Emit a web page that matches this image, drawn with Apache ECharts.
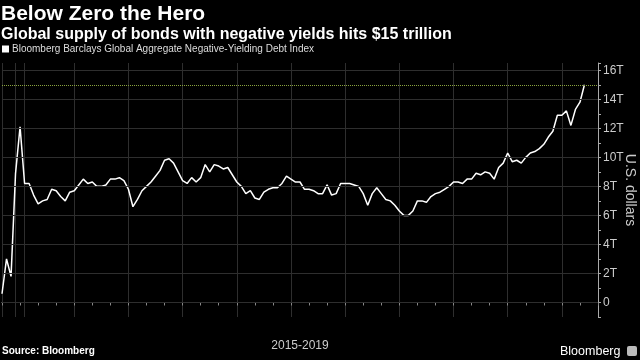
<!DOCTYPE html>
<html><head><meta charset="utf-8">
<script src="https://cdn.jsdelivr.net/npm/echarts@6/dist/echarts.min.js"></script>
<style>html,body{margin:0;padding:0;background:#000}#c{width:640px;height:360px}</style>
</head><body><div id="c"></div>
<script>
const chartTitle = 'Below Zero the Hero';
const chartSubtitle = 'Global supply of bonds with negative yields hits $15 trillion';
const seriesName = 'Bloomberg Barclays Global Aggregate Negative-Yielding Debt Index';
const periodLabel = '2015-2019';
const yUnit = 'U.S. dollars';
const sourceText = 'Source: Bloomberg';
const brandText = 'Bloomberg';
const yTicks = [0, 2, 4, 6, 8, 10, 12, 14, 16];
const targetLevel = 15;
// index level, trillions of USD, evenly spaced observations
const values = [
 0.6, 3.0, 1.8, 8.9, 12.1, 8.2, 8.2, 7.4, 6.8, 7.0,
 7.1, 7.8, 7.7, 7.3, 7.0, 7.6, 7.7, 8.1, 8.5, 8.2,
 8.3, 8.0, 8.0, 8.1, 8.5, 8.5, 8.6, 8.4, 7.8, 6.6,
 7.1, 7.7, 8.0, 8.3, 8.7, 9.1, 9.8, 9.9, 9.6, 9.0,
 8.4, 8.2, 8.6, 8.3, 8.6, 9.5, 9.0, 9.5, 9.4, 9.2,
 9.3, 8.8, 8.3, 8.0, 7.5, 7.7, 7.2, 7.1, 7.6, 7.8,
 7.9, 7.9, 8.2, 8.7, 8.5, 8.3, 8.3, 7.8, 7.8, 7.7,
 7.5, 7.5, 8.1, 7.4, 7.5, 8.2, 8.2, 8.2, 8.1, 8.0,
 7.5, 6.7, 7.5, 7.9, 7.5, 7.1, 7.0, 6.7, 6.3, 6.0,
 6.0, 6.3, 7.0, 7.0, 6.9, 7.3, 7.5, 7.6, 7.8, 8.0,
 8.3, 8.3, 8.2, 8.5, 8.5, 8.9, 8.8, 9.0, 8.9, 8.5,
 9.3, 9.6, 10.3, 9.7, 9.8, 9.6, 10.0, 10.3, 10.4, 10.6,
 10.9, 11.4, 11.8, 12.9, 12.9, 13.2, 12.2, 13.3, 13.8, 15.0
];
const padCount = 3;
const seriesData = values.concat(new Array(padCount).fill(null));
const categories = seriesData.map((_, i) => 'P' + i);
const gridlineIdx = [0, 3, 5, 16, 28, 40, 52, 64, 76, 88, 100, 112, 124];

const FONT = '"Liberation Sans", Arial, sans-serif';
const chart = echarts.init(document.getElementById('c'), null, {renderer: 'canvas'});
chart.setOption({
  backgroundColor: '#000',
  animation: false,
  textStyle: {fontFamily: FONT},
  title: [
    {text: chartTitle, left: 1, top: 4, padding: 0,
     textStyle: {color: '#fff', fontSize: 21, fontWeight: 'bold', fontFamily: FONT}},
    {text: chartSubtitle, left: 1, top: 27, padding: 0,
     textStyle: {color: '#fff', fontSize: 16, fontWeight: 'bold', fontFamily: FONT}}
  ],
  legend: {
    data: [seriesName], left: 2, top: 44, padding: 0, icon: 'rect',
    itemWidth: 7, itemHeight: 7, itemGap: 3,
    textStyle: {color: '#ddd', fontSize: 10, padding: [0, 0, 0, -2], fontFamily: FONT}
  },
  grid: {left: 2, right: 42, top: 63, bottom: 43, containLabel: false, outerBoundsMode: 'none'},
  xAxis: {
    type: 'category', data: categories, boundaryGap: false,
    axisLine: {lineStyle: {color: '#aaa', width: 1}},
    axisTick: {show: true, interval: 3, length: 3, lineStyle: {color: '#888'}},
    axisLabel: {show: false},
    splitLine: {show: true, interval: (i) => gridlineIdx.includes(i), lineStyle: {color: '#2e2e2e', width: 1}},
    name: periodLabel, nameLocation: 'middle', nameGap: 23, nameMoveOverlap: false,
    nameTextStyle: {color: '#ccc', fontSize: 12, fontFamily: FONT}
  },
  yAxis: {
    type: 'value', position: 'right', min: -1, max: 16.5, interval: 1,
    axisLine: {show: true, lineStyle: {color: '#aaa'}},
    axisTick: {show: true, length: 3, lineStyle: {color: '#aaa'}},
    axisLabel: {color: '#ccc', fontSize: 12, margin: 5, fontFamily: FONT,
      formatter: (v) => yTicks.includes(v) ? (v === 0 ? '0' : v + 'T') : ''},
    splitLine: {show: false},
    name: yUnit, nameLocation: 'middle', nameRotate: -90, nameGap: 25, nameMoveOverlap: false,
    nameTextStyle: {color: '#ccc', fontSize: 14, fontFamily: FONT}
  },
  series: [
    {
      name: 'grid', type: 'line', data: [], z: 1, silent: true,
      markLine: {
        silent: true, symbol: 'none', label: {show: false}, animation: false,
        data: yTicks.map(v => ({yAxis: v, lineStyle: {color: '#2e2e2e', type: 'solid', width: 1}}))
          .concat([{yAxis: targetLevel, lineStyle: {color: '#8aa33f', type: 'dotted', width: 1}}])
      }
    },
    {
      name: seriesName, type: 'line', data: seriesData, z: 3,
      showSymbol: false, symbol: 'none', connectNulls: false,
      itemStyle: {color: '#fff'},
      lineStyle: {color: '#fff', width: 1.5}
    }
  ],
  graphic: [
    {type: 'text', left: 2, top: 346,
     style: {text: sourceText, fill: '#fff', font: 'bold 10px ' + FONT}},
    {type: 'text', left: 560, top: 345,
     style: {text: brandText, fill: '#fff', font: '12.5px ' + FONT}},
    {type: 'rect', left: 627, top: 346, shape: {width: 10, height: 10, r: 2},
     style: {fill: '#bbb'}}
  ]
});
</script>
</body></html>
